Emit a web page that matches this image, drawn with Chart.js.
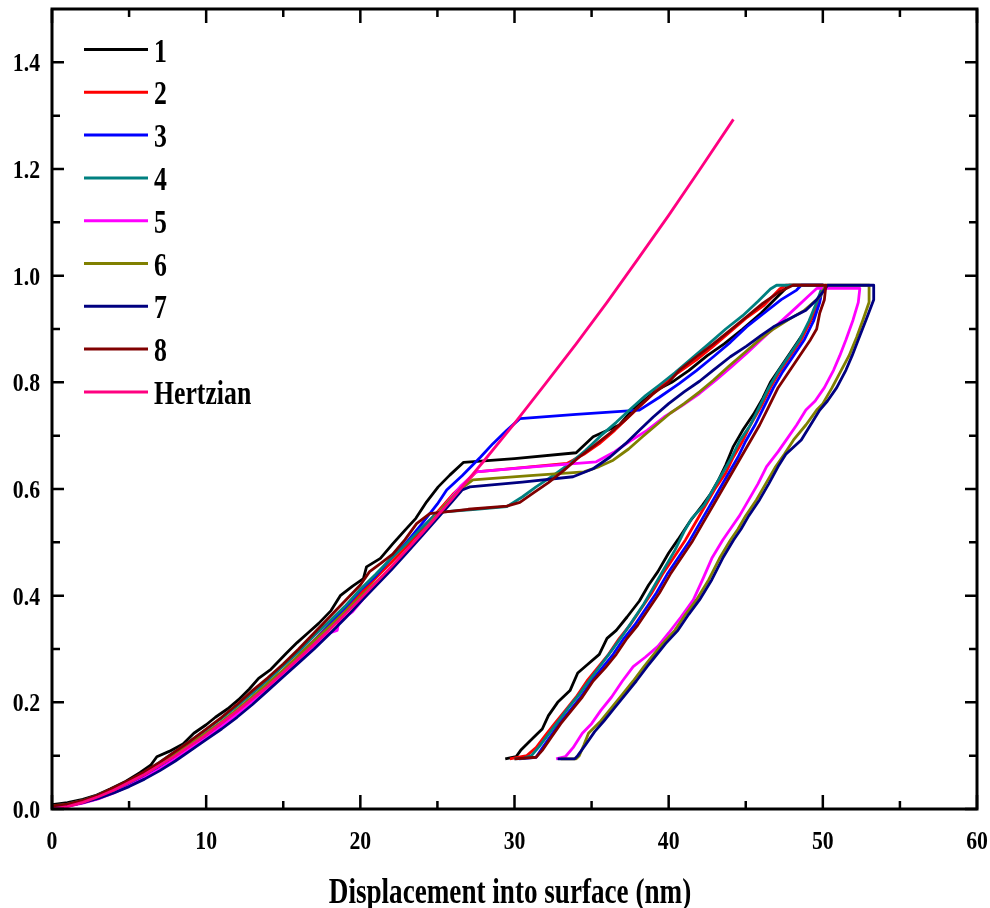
<!DOCTYPE html>
<html>
<head>
<meta charset="utf-8">
<title>Load - displacement curves</title>
<script src="https://cdn.jsdelivr.net/npm/chart.js@4.4.0/dist/chart.umd.min.js"></script>
<style>
    html, body { margin: 0; padding: 0; background: #fff; }
    canvas { display: block; }
</style>
</head>
<body>
<canvas id="load-chart" width="990" height="908"></canvas>
<script>
// series names and colours (legend order)
const seriesNames = ['1', '2', '3', '4', '5', '6', '7', '8', 'Hertzian'];
const seriesColors = ['#000000', '#ff0000', '#0000ff', '#008080', '#ff00ff', '#808000', '#000080', '#800000', '#ff0080'];

// measured curves: [displacement (nm), load]
const curve1 = [[0,0.008],[1,0.012],[2,0.018],[2.8,0.025],[3.8,0.038],[4.8,0.052],[5.7,0.068],[6.4,0.082],[6.8,0.098],[7.6,0.108],[8.5,0.122],[9.2,0.142],[10,0.158],[10.6,0.172],[11.4,0.188],[12.1,0.205],[12.8,0.225],[13.4,0.245],[14.2,0.262],[15.2,0.292],[15.9,0.312],[16.6,0.33],[17.3,0.348],[18.1,0.372],[18.7,0.4],[19.5,0.418],[20.2,0.432],[20.4,0.454],[21.3,0.47],[22.1,0.497],[22.9,0.523],[23.6,0.545],[24.3,0.576],[25.05,0.604],[25.8,0.626],[26.7,0.65],[30,0.657],[34,0.668],[35.1,0.698],[36.8,0.72],[37.7,0.75],[39.2,0.785],[40.2,0.8],[41.3,0.822],[42.5,0.85],[43.6,0.872],[44.8,0.9],[46,0.93],[47.1,0.962],[47.8,0.982],[50,0.982],[49.8,0.955],[49.3,0.92],[48.7,0.89],[48,0.86],[47.3,0.83],[46.6,0.8],[46.1,0.77],[45.5,0.74],[44.8,0.71],[44.2,0.68],[43.7,0.645],[43.2,0.615],[42.7,0.59],[42.2,0.57],[41.4,0.54],[40.6,0.505],[40,0.48],[39.3,0.445],[38.7,0.42],[38.1,0.39],[37.3,0.36],[36.6,0.335],[36,0.32],[35.5,0.29],[34.7,0.27],[34.1,0.255],[33.6,0.222],[32.8,0.2],[32.2,0.175],[31.8,0.15],[31.2,0.133],[30.4,0.11],[30.1,0.098],[29.4,0.094]];
const curve2 = [[0,0.005],[1,0.008],[2,0.015],[3,0.025],[4,0.037],[5,0.05],[6,0.066],[7,0.084],[8,0.103],[9,0.122],[10,0.143],[11,0.163],[12,0.186],[13,0.21],[14,0.235],[15,0.26],[16,0.288],[17,0.316],[18,0.345],[19,0.372],[20,0.403],[21,0.433],[22,0.462],[23,0.492],[24,0.525],[25,0.557],[26,0.59],[27,0.617],[27.5,0.632],[30.5,0.64],[33.4,0.648],[34.5,0.665],[35.5,0.685],[36.5,0.71],[37.5,0.738],[38.5,0.765],[39.6,0.795],[40.6,0.818],[41.8,0.842],[42.9,0.868],[44,0.895],[45,0.92],[46.2,0.945],[47.2,0.975],[47.6,0.982],[50,0.982],[49.7,0.95],[49.2,0.915],[48.6,0.88],[47.9,0.85],[47.2,0.82],[46.6,0.79],[46,0.755],[45.3,0.72],[44.8,0.69],[44.2,0.66],[43.7,0.63],[43,0.6],[42.4,0.57],[41.8,0.54],[41.1,0.505],[40.3,0.47],[39.6,0.44],[38.9,0.405],[38.2,0.375],[37.5,0.345],[36.8,0.32],[36.1,0.29],[35.4,0.265],[34.7,0.24],[34,0.21],[33.3,0.185],[32.6,0.16],[32,0.138],[31.4,0.115],[30.8,0.1],[30.2,0.097],[29.7,0.094]];
const curve3 = [[0,0.004],[1,0.006],[2,0.012],[3,0.02],[4,0.032],[5,0.045],[6,0.06],[7,0.077],[8,0.096],[9,0.116],[10,0.136],[11,0.157],[12,0.18],[13,0.205],[14,0.23],[15,0.257],[16,0.285],[17,0.315],[18,0.345],[19,0.377],[20,0.41],[21,0.437],[22,0.47],[23,0.5],[24,0.535],[25,0.572],[25.6,0.598],[26.6,0.625],[27.8,0.66],[28.6,0.685],[29.5,0.71],[30.35,0.732],[34,0.74],[38.1,0.748],[39.4,0.772],[40.7,0.798],[41.8,0.822],[42.9,0.848],[44,0.875],[45.05,0.904],[46.2,0.93],[47.3,0.955],[48.3,0.973],[48.6,0.982],[50,0.982],[49.8,0.95],[49.4,0.915],[48.8,0.88],[48.1,0.85],[47.4,0.82],[46.8,0.79],[46.2,0.755],[45.6,0.72],[45,0.69],[44.5,0.66],[43.9,0.63],[43.3,0.6],[42.6,0.565],[42,0.535],[41.3,0.5],[40.6,0.47],[39.9,0.44],[39.2,0.405],[38.5,0.375],[37.8,0.345],[37.1,0.32],[36.4,0.29],[35.7,0.265],[35,0.24],[34.3,0.21],[33.6,0.185],[32.9,0.16],[32.3,0.135],[31.7,0.11],[31.4,0.097],[30.3,0.094]];
const curve4 = [[0,0.006],[1,0.009],[2,0.016],[3,0.026],[4,0.039],[5,0.053],[6,0.069],[7,0.088],[8,0.108],[9,0.128],[10,0.149],[11,0.17],[12,0.193],[13,0.217],[14,0.242],[15,0.268],[16,0.295],[17,0.325],[18,0.352],[19,0.38],[20,0.412],[21,0.44],[22,0.47],[23,0.498],[24,0.528],[25,0.556],[27.5,0.562],[29.5,0.567],[30.5,0.585],[31.4,0.604],[32.5,0.625],[33.6,0.648],[34.6,0.672],[35.6,0.7],[36.6,0.725],[37.6,0.752],[38.5,0.775],[39.4,0.795],[40.4,0.818],[41.5,0.845],[42.6,0.872],[43.7,0.9],[44.8,0.925],[45.8,0.952],[46.6,0.975],[47,0.982],[50,0.982],[49.6,0.95],[49.1,0.915],[48.5,0.88],[47.8,0.85],[47.1,0.82],[46.5,0.79],[45.9,0.755],[45.3,0.72],[44.6,0.69],[44.1,0.66],[43.5,0.63],[42.9,0.6],[42.3,0.57],[41.5,0.545],[41,0.52],[40.4,0.485],[39.7,0.45],[39,0.415],[38.4,0.385],[37.7,0.355],[37,0.325],[36.3,0.297],[35.6,0.27],[34.9,0.243],[34.2,0.215],[33.5,0.19],[32.8,0.163],[32.2,0.14],[31.6,0.117],[31.1,0.1],[30.6,0.095],[30,0.094]];
const curve5 = [[0,0.003],[1,0.005],[2,0.011],[3,0.019],[4,0.03],[5,0.043],[6,0.058],[7,0.075],[8,0.094],[9,0.114],[10,0.133],[11,0.155],[12,0.178],[13,0.202],[14,0.226],[15,0.252],[16,0.278],[17,0.305],[18,0.33],[18.5,0.335],[18.6,0.35],[19.5,0.37],[20.5,0.405],[21.5,0.435],[22.5,0.468],[23.5,0.5],[24.5,0.535],[25.5,0.57],[26.5,0.605],[27.5,0.632],[31,0.641],[35.3,0.651],[36.5,0.67],[37.5,0.69],[38.6,0.71],[39.7,0.735],[40.8,0.755],[42,0.779],[43.1,0.805],[44.1,0.83],[45.05,0.854],[46,0.88],[47.2,0.912],[48.3,0.941],[49,0.96],[49.6,0.976],[52.4,0.976],[52.3,0.95],[51.96,0.917],[51.5,0.88],[51.1,0.85],[50.7,0.823],[50.1,0.79],[49.5,0.765],[48.9,0.748],[48.3,0.72],[47.7,0.695],[47.1,0.67],[46.35,0.642],[45.8,0.61],[45.2,0.58],[44.6,0.55],[44,0.525],[43.5,0.504],[42.8,0.47],[42.2,0.43],[41.6,0.392],[40.8,0.36],[40,0.33],[39.3,0.305],[38.5,0.285],[37.7,0.267],[37,0.24],[36.3,0.21],[35.6,0.185],[35,0.16],[34.4,0.142],[33.8,0.115],[33.3,0.098],[32.7,0.094]];
const curve6 = [[0,0.005],[1,0.008],[2,0.014],[3,0.024],[4,0.036],[5,0.05],[6,0.065],[7,0.083],[8,0.102],[9,0.122],[10,0.142],[11,0.163],[12,0.186],[13,0.21],[14,0.235],[15,0.26],[16,0.287],[17,0.315],[18,0.342],[19,0.37],[20,0.398],[20.8,0.42],[21.5,0.438],[22.5,0.468],[23.5,0.5],[24.5,0.535],[25.5,0.57],[26.5,0.6],[27.3,0.617],[31,0.625],[34.5,0.632],[35.5,0.642],[36.4,0.654],[37.4,0.675],[38.3,0.698],[39.2,0.72],[40.1,0.742],[41,0.76],[42,0.782],[42.9,0.804],[43.9,0.83],[44.9,0.855],[45.9,0.88],[46.8,0.9],[47.8,0.918],[48.8,0.935],[49.8,0.96],[50.2,0.982],[53,0.982],[53,0.95],[52.6,0.917],[52.2,0.885],[51.7,0.85],[51.2,0.823],[50.6,0.79],[50,0.76],[49.6,0.748],[48.9,0.72],[48.1,0.692],[47.5,0.665],[46.9,0.64],[46.3,0.61],[45.7,0.58],[45,0.55],[44.5,0.525],[44,0.504],[43.3,0.47],[42.6,0.43],[41.8,0.392],[41.1,0.365],[40.4,0.335],[39.6,0.31],[38.9,0.285],[38.4,0.267],[37.7,0.24],[37,0.215],[36.3,0.19],[35.6,0.165],[34.8,0.142],[34.5,0.12],[34.2,0.1],[34,0.094],[33,0.094]];
const curve7 = [[0,0.004],[1,0.006],[2,0.012],[3,0.02],[4,0.03],[5,0.042],[6,0.056],[7,0.072],[8,0.09],[9,0.11],[10,0.13],[11,0.15],[12,0.172],[13,0.196],[14,0.222],[15,0.248],[16,0.274],[17,0.3],[18,0.328],[19,0.357],[20,0.388],[21,0.418],[22,0.448],[23,0.48],[24,0.512],[25,0.545],[26,0.578],[26.6,0.598],[27.1,0.604],[30.5,0.613],[33.8,0.623],[35.1,0.638],[36.2,0.66],[37.2,0.685],[38.1,0.71],[39,0.735],[40,0.76],[41,0.782],[42,0.802],[42.9,0.823],[44,0.848],[45.05,0.868],[46,0.888],[46.8,0.904],[47.9,0.92],[48.9,0.935],[49.6,0.955],[50.1,0.973],[50.3,0.982],[53.3,0.982],[53.3,0.955],[52.8,0.917],[52.3,0.88],[51.9,0.85],[51.5,0.823],[50.9,0.79],[50.3,0.765],[49.8,0.748],[49.2,0.72],[48.6,0.692],[47.6,0.665],[47.1,0.642],[46.5,0.61],[45.9,0.58],[45.2,0.55],[44.7,0.525],[44.2,0.504],[43.5,0.47],[42.8,0.43],[42,0.392],[41.3,0.365],[40.6,0.335],[39.8,0.31],[39.1,0.285],[38.6,0.267],[37.9,0.24],[37.2,0.215],[36.5,0.19],[35.8,0.165],[35.2,0.145],[34.6,0.12],[34.1,0.1],[33.9,0.094],[32.8,0.094]];
const curve8 = [[0,0.006],[1,0.009],[2,0.016],[3,0.026],[4,0.04],[5,0.054],[6,0.07],[7,0.088],[8,0.108],[9,0.128],[10,0.15],[11,0.172],[12,0.196],[13,0.222],[14,0.246],[15,0.272],[16,0.3],[17,0.33],[18,0.36],[19,0.39],[20,0.42],[20.6,0.445],[21.3,0.46],[22.1,0.478],[22.9,0.505],[23.65,0.535],[24.5,0.554],[27,0.562],[29.5,0.568],[30.35,0.575],[31.3,0.594],[32.2,0.612],[33.2,0.635],[34.2,0.66],[35.2,0.682],[36.2,0.705],[37.2,0.73],[38.1,0.755],[39,0.779],[40,0.8],[40.7,0.823],[41.8,0.848],[42.9,0.872],[44,0.898],[45.05,0.923],[46.1,0.948],[47.2,0.97],[48.06,0.982],[50.2,0.982],[50.1,0.955],[49.8,0.93],[49.6,0.9],[49.2,0.88],[48.5,0.85],[47.8,0.82],[47.1,0.79],[46.5,0.755],[45.9,0.72],[45.3,0.69],[44.7,0.66],[44.1,0.63],[43.5,0.6],[42.9,0.57],[42.2,0.535],[41.5,0.5],[40.8,0.47],[40.1,0.44],[39.4,0.405],[38.7,0.375],[38,0.345],[37.3,0.32],[36.6,0.29],[35.9,0.265],[35.1,0.24],[34.4,0.21],[33.7,0.185],[33,0.16],[32.4,0.135],[31.8,0.11],[31.4,0.097],[30,0.094]];
const hertzian = [[0,0],[1,0.0044],[2,0.0125],[3,0.0229],[4,0.0352],[6,0.0647],[8,0.0996],[10,0.139],[12,0.183],[14,0.23],[16,0.282],[18,0.336],[20,0.394],[22,0.454],[24,0.517],[26,0.583],[28,0.652],[30,0.723],[32,0.797],[34,0.872],[36,0.95],[38,1.031],[40,1.113],[42,1.198],[44.2,1.293]];

// axis ticks
const xMajorTicks = [0, 10, 20, 30, 40, 50, 60];
const xMinorTicks = [5, 15, 25, 35, 45, 55];
const xTickLabels = ['0', '10', '20', '30', '40', '50', '60'];
const yMajorTicks = [0, 0.2, 0.4, 0.6, 0.8, 1.0, 1.2, 1.4];
const yMinorTicks = [0.1, 0.3, 0.5, 0.7, 0.9, 1.1, 1.3];
const yTickLabels = ['0.0', '0.2', '0.4', '0.6', '0.8', '1.0', '1.2', '1.4'];
const xAxisTitle = 'Displacement into surface (nm)';

const serifFont = '"Liberation Serif", "Times New Roman", serif';

// turn [x, y] pairs into chart points
function toPoints(pairs) {
    return pairs.map(p => ({ x: p[0], y: p[1] }));
}

// bold text squeezed sideways
function drawNarrowText(ctx, text, x, y, size, squeeze, align) {
    ctx.save();
    ctx.font = 'bold ' + size + 'px ' + serifFont;
    ctx.textAlign = align;
    ctx.textBaseline = 'alphabetic';
    ctx.fillStyle = '#000';
    ctx.translate(x, y);
    ctx.scale(squeeze, 1);
    ctx.fillText(text, 0, 0);
    ctx.restore();
}

// frame, inward ticks, tick labels, axis title and legend
const framePlugin = {
    id: 'frame',
    afterDraw(chart) {
        const ctx = chart.ctx;
        const area = chart.chartArea;
        const xScale = chart.scales.x;
        const yScale = chart.scales.y;

        ctx.save();
        ctx.strokeStyle = '#000';
        ctx.lineWidth = 3;
        ctx.strokeRect(area.left, area.top, area.right - area.left, area.bottom - area.top);

        ctx.lineWidth = 2.5;
        ctx.beginPath();
        const xTick = (v, len) => {
            const px = xScale.getPixelForValue(v);
            ctx.moveTo(px, area.bottom); ctx.lineTo(px, area.bottom - len);
            ctx.moveTo(px, area.top); ctx.lineTo(px, area.top + len);
        };
        const yTick = (v, len) => {
            const py = yScale.getPixelForValue(v);
            ctx.moveTo(area.left, py); ctx.lineTo(area.left + len, py);
            ctx.moveTo(area.right, py); ctx.lineTo(area.right - len, py);
        };
        xMajorTicks.forEach(v => xTick(v, 14));
        xMinorTicks.forEach(v => xTick(v, 8));
        yMajorTicks.forEach(v => yTick(v, 12));
        yMinorTicks.forEach(v => yTick(v, 8));
        ctx.stroke();
        ctx.restore();

        xMajorTicks.forEach((v, i) => {
            drawNarrowText(ctx, xTickLabels[i], xScale.getPixelForValue(v), area.bottom + 40, 25, 0.87, 'center');
        });
        yMajorTicks.forEach((v, i) => {
            drawNarrowText(ctx, yTickLabels[i], area.left - 12, yScale.getPixelForValue(v) + 9, 25, 0.87, 'right');
        });
        drawNarrowText(ctx, xAxisTitle, 510, 903, 35, 0.775, 'center');

        // legend
        ctx.save();
        ctx.lineWidth = 3;
        seriesNames.forEach((name, i) => {
            const rowY = 49.5 + i * 42.8;
            ctx.strokeStyle = seriesColors[i];
            ctx.beginPath();
            ctx.moveTo(84, rowY);
            ctx.lineTo(148, rowY);
            ctx.stroke();
            drawNarrowText(ctx, name, 154, rowY + 12, 33, 0.78, 'left');
        });
        ctx.restore();
    }
};

const curves = [curve1, curve2, curve3, curve4, curve5, curve6, curve7, curve8, hertzian];
const drawOrder = [8, 7, 6, 5, 4, 3, 2, 1, 0];

const datasets = curves.map((curve, i) => ({
    label: seriesNames[i],
    data: toPoints(curve),
    showLine: true,
    borderColor: seriesColors[i],
    backgroundColor: seriesColors[i],
    borderWidth: 2.8,
    pointRadius: 0,
    borderJoinStyle: 'round',
    fill: false,
    order: drawOrder[i]
}));

new Chart(document.getElementById('load-chart').getContext('2d'), {
    type: 'scatter',
    data: { datasets: datasets },
    options: {
        responsive: false,
        animation: false,
        devicePixelRatio: 1,
        layout: { padding: { left: 0, right: 13, top: 9, bottom: 0 } },
        plugins: {
            legend: { display: false },
            tooltip: { enabled: false }
        },
        scales: {
            x: {
                type: 'linear',
                min: 0,
                max: 60,
                ticks: { display: false, stepSize: 10 },
                grid: { display: false },
                border: { display: false },
                afterFit: scale => { scale.height = 99; }
            },
            y: {
                type: 'linear',
                min: 0,
                max: 1.5,
                ticks: { display: false, stepSize: 0.2 },
                grid: { display: false },
                border: { display: false },
                afterFit: scale => { scale.width = 52; }
            }
        }
    },
    plugins: [framePlugin]
});
</script>
</body>
</html>
